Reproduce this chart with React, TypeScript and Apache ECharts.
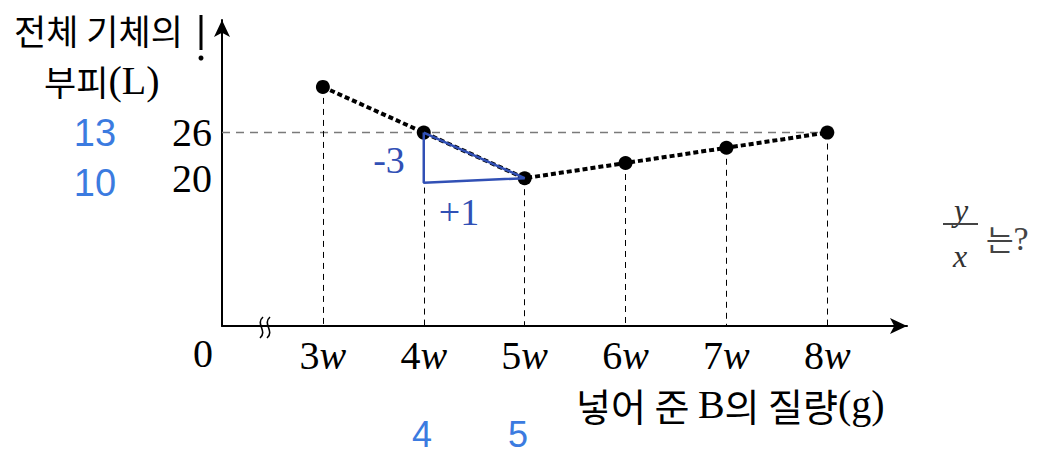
import React, { useEffect, useRef } from "react";
import * as echarts from "echarts";

// ---- data ----
const massMultiples = [3, 4, 5, 6, 7, 8];
const volumes = [32, 26, 20, 22, 24, 26];
const yTickValues = [20, 26];
const referenceLevel = 26;
const blueYAnnotations = ["13", "10"];
const blueXAnnotations = ["4", "5"];
const slopeTriangle: [number, number][] = [
  [4, 26],
  [4, 19.4],
  [5, 20],
  [4, 26],
];
const slopeLabels = ["-3", "+1"];

const X_MIN = 2;
const X_MAX = 8.79;
const Y_MIN = 0.57;
const Y_MAX = 40.8;

const SERIF = '"Liberation Serif", "DejaVu Serif", serif';
const KR = '"Noto Sans CJK KR", "Noto Sans", sans-serif';
const BLUE = "#3b7be0";
const DARK_BLUE = "#3150b5";

export default function App() {
  const ref = useRef<HTMLDivElement>(null);

  useEffect(() => {
    if (!ref.current) return;
    const chart = echarts.init(ref.current, null, { renderer: "svg" });

    const points = massMultiples.map((m, i) => [m, volumes[i]]);
    const drops = massMultiples.map((m, i) => [
      { coord: [m, volumes[i]] },
      { coord: [m, Y_MIN] },
    ]);

    const squiggle = (x: number) => ({
      type: "bezierCurve",
      shape: {
        x1: x + 2,
        y1: 317,
        cpx1: x - 6,
        cpy1: 324,
        cpx2: x + 7,
        cpy2: 331,
        x2: x - 1,
        y2: 338,
      },
      style: { stroke: "#000", lineWidth: 1.6, fill: "none" },
      z: 10,
    });

    chart.setOption({
      animation: false,
      backgroundColor: "#fff",
      grid: {
        left: 222,
        right: 140,
        top: 20,
        bottom: 128,
        containLabel: false,
        outerBoundsMode: "none",
      },
      xAxis: {
        type: "value",
        min: X_MIN,
        max: X_MAX,
        axisLine: {
          onZero: false,
          symbol: ["none", "arrow"],
          symbolSize: [12, 17],
          lineStyle: { color: "#000", width: 2 },
        },
        axisTick: { show: false },
        splitLine: { show: false },
        axisLabel: {
          customValues: massMultiples,
          margin: 9,
          formatter: (v: number) => `{n|${v}}{w|w}`,
          rich: {
            n: { fontFamily: SERIF, fontSize: 40, color: "#000" },
            w: { fontFamily: SERIF, fontSize: 40, fontStyle: "italic", color: "#000" },
          },
        },
      },
      yAxis: {
        type: "value",
        min: Y_MIN,
        max: Y_MAX,
        axisLine: {
          onZero: false,
          symbol: ["none", "arrow"],
          symbolSize: [12, 17],
          lineStyle: { color: "#000", width: 2 },
        },
        axisTick: { show: false },
        splitLine: { show: false },
        axisLabel: {
          customValues: yTickValues,
          margin: 10,
          fontFamily: SERIF,
          fontSize: 40,
          color: "#000",
        },
      },
      series: [
        {
          type: "line",
          data: points,
          symbol: "circle",
          symbolSize: 14,
          itemStyle: { color: "#000" },
          lineStyle: { color: "#000", width: 4, type: [5, 3] },
          z: 5,
          markLine: {
            silent: true,
            symbol: ["none", "none"],
            label: { show: false },
            data: [
              [
                {
                  coord: [X_MIN, referenceLevel],
                  lineStyle: { color: "#7a7a7a", width: 1.3, type: [8, 6] },
                },
                { coord: [8, referenceLevel] },
              ],
              ...drops.map((d) => [
                { ...d[0], lineStyle: { color: "#000", width: 1, type: [6, 5] } },
                d[1],
              ]),
            ],
          },
        },
        {
          type: "line",
          data: slopeTriangle,
          symbol: "none",
          lineStyle: { color: DARK_BLUE, width: 2.5 },
          z: 6,
        },
      ],
      graphic: [
        {
          type: "text",
          x: 14,
          y: 29,
          style: {
            text: "전체 기체의",
            font: `35px ${KR}`,
            fill: "#000",
            textAlign: "left",
            textVerticalAlign: "middle",
          },
        },
        {
          type: "text",
          x: 44,
          y: 80,
          style: {
            text: "{k|부피}{s|(L)}",
            fill: "#000",
            textAlign: "left",
            textVerticalAlign: "middle",
            rich: {
              k: { fontFamily: KR, fontSize: 35, fill: "#000" },
              s: { fontFamily: SERIF, fontSize: 40, fill: "#000" },
            },
          },
        },
        { type: "line", shape: { x1: 201, y1: 15, x2: 201, y2: 50 }, style: { stroke: "#000", lineWidth: 3 } },
        { type: "circle", shape: { cx: 201, cy: 58, r: 2.5 }, style: { fill: "#000" } },
        {
          type: "text",
          x: 95,
          y: 133,
          style: {
            text: blueYAnnotations[0],
            font: `38px "Liberation Sans", sans-serif`,
            fill: BLUE,
            textAlign: "center",
            textVerticalAlign: "middle",
          },
        },
        {
          type: "text",
          x: 95,
          y: 183,
          style: {
            text: blueYAnnotations[1],
            font: `38px "Liberation Sans", sans-serif`,
            fill: BLUE,
            textAlign: "center",
            textVerticalAlign: "middle",
          },
        },
        {
          type: "text",
          x: 203,
          y: 353,
          style: {
            text: "0",
            font: `40px ${SERIF}`,
            fill: "#000",
            textAlign: "center",
            textVerticalAlign: "middle",
          },
        },
        squiggle(261),
        squiggle(268),
        {
          type: "text",
          x: 576,
          y: 404,
          style: {
            text: "{k|넣어 준 }{s|B}{k|의 질량}{s|(g)}",
            fill: "#000",
            textAlign: "left",
            textVerticalAlign: "middle",
            rich: {
              k: { fontFamily: KR, fontSize: 38, fill: "#000" },
              s: { fontFamily: SERIF, fontSize: 40, fill: "#000" },
            },
          },
        },
        {
          type: "text",
          x: 422,
          y: 434,
          style: {
            text: blueXAnnotations[0],
            font: `36px "Liberation Sans", sans-serif`,
            fill: BLUE,
            textAlign: "center",
            textVerticalAlign: "middle",
          },
        },
        {
          type: "text",
          x: 518,
          y: 434,
          style: {
            text: blueXAnnotations[1],
            font: `36px "Liberation Sans", sans-serif`,
            fill: BLUE,
            textAlign: "center",
            textVerticalAlign: "middle",
          },
        },
        {
          type: "text",
          x: 389,
          y: 160,
          style: {
            text: slopeLabels[0],
            font: `38px ${SERIF}`,
            fill: DARK_BLUE,
            textAlign: "center",
            textVerticalAlign: "middle",
          },
        },
        {
          type: "text",
          x: 459,
          y: 212,
          style: {
            text: slopeLabels[1],
            font: `38px ${SERIF}`,
            fill: DARK_BLUE,
            textAlign: "center",
            textVerticalAlign: "middle",
          },
        },
        {
          type: "text",
          x: 961,
          y: 210,
          style: {
            text: "y",
            font: `italic 32px ${SERIF}`,
            fill: "#333",
            textAlign: "center",
            textVerticalAlign: "middle",
          },
        },
        { type: "line", shape: { x1: 943, y1: 224, x2: 978, y2: 224 }, style: { stroke: "#444", lineWidth: 2 } },
        {
          type: "text",
          x: 960,
          y: 256,
          style: {
            text: "x",
            font: `italic 32px ${SERIF}`,
            fill: "#333",
            textAlign: "center",
            textVerticalAlign: "middle",
          },
        },
        {
          type: "text",
          x: 986,
          y: 238,
          style: {
            text: "{k|는}{s|?}",
            fill: "#444",
            textAlign: "left",
            textVerticalAlign: "middle",
            rich: {
              k: { fontFamily: KR, fontSize: 30, fill: "#444" },
              s: { fontFamily: SERIF, fontSize: 34, fill: "#444" },
            },
          },
        },
      ],
    });

    return () => chart.dispose();
  }, []);

  return (
    <div
      ref={ref}
      style={{ position: "fixed", left: 0, top: 0, width: 1047, height: 454 }}
    />
  );
}
